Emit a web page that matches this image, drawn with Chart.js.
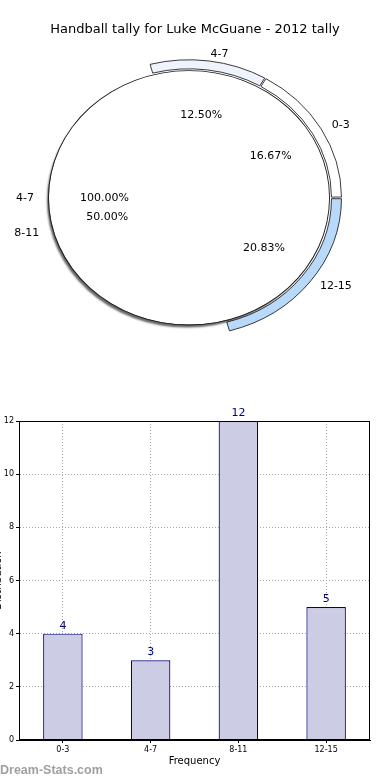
<!DOCTYPE html>
<html>
<head>
<meta charset="utf-8">
<script src="https://cdn.jsdelivr.net/npm/chart.js@4.4.1/dist/chart.umd.min.js"></script>
<style>
  body { margin: 0; background: #fff; }
  #wrap { position: relative; width: 390px; height: 780px; overflow: hidden; }
  canvas { position: absolute; left: 0; }
  #mark { position: absolute; left: 0; top: 763px; font: bold 12.5px "Liberation Sans"; color: #a0a0a0; }
</style>
</head>
<body>
<div id="wrap">
  <canvas id="pieChart" width="390" height="400" style="top:0"></canvas>
  <canvas id="barChart" width="390" height="380" style="top:400px"></canvas>
  <div id="mark">Dream-Stats.com</div>
</div>
<script>
const categories = ["0-3", "4-7", "8-11", "12-15"];
const tally = [4, 3, 12, 5];
const overlayLabels = ["4-7"];   // the whole-circle slice drawn under the wedges
const overlayShare = [100];
const yTicks = [0, 2, 4, 6, 8, 10, 12];

Chart.defaults.font.family = '"DejaVu Sans"';
Chart.defaults.color = "#000";

const squash = 0.905;     // pie is drawn a bit flattened, like the original
const labelSquash = 0.88;
const pieShiftX = -6;
const explode = [0.07, 0.07, 0, 0.07];

function centre(chart) {
    const a = chart.chartArea;
    return { cx: (a.left + a.right) / 2 + pieShiftX, cy: (a.top + a.bottom) / 2 };
}

const ellipsePlugin = {
    id: "ellipse",
    beforeDatasetsDraw(chart) {
        const { cx, cy } = centre(chart);
        const ctx = chart.ctx;
        ctx.save();
        ctx.translate(cx, cy);
        ctx.scale(1, -squash); // flip so slices run counter-clockwise
        ctx.translate(-cx + pieShiftX, -cy);
    },
    afterDatasetsDraw(chart) {
        chart.ctx.restore();
    },
    beforeDatasetDraw(chart, args) {
        if (args.index === 2) {
            const ctx = chart.ctx;
            ctx.shadowColor = "rgba(0,0,0,0.6)";
            ctx.shadowOffsetX = -2;
            ctx.shadowOffsetY = 3;
            ctx.shadowBlur = 2;
        }
    },
    afterDatasetDraw(chart, args) {
        if (args.index === 2) {
            const ctx = chart.ctx;
            ctx.shadowColor = "rgba(0,0,0,0)";
            ctx.shadowOffsetX = 0;
            ctx.shadowOffsetY = 0;
            ctx.shadowBlur = 0;
        }
    },
};

const pieLabels = {
    id: "pieLabels",
    afterDraw(chart) {
        const { cx, cy } = centre(chart);
        const ctx = chart.ctx;
        const R = chart.getDatasetMeta(1).data[0].outerRadius;
        ctx.save();
        ctx.font = '11px "DejaVu Sans"';
        ctx.fillStyle = "#000";
        ctx.textBaseline = "middle";

        const put = (arc, name, pct, e) => {
            const mid = (arc.startAngle + arc.endAngle) / 2;
            const c = Math.cos(mid), s = Math.sin(mid);
            ctx.textAlign = c < -0.001 ? "right" : "left";
            ctx.fillText(name, cx + (1.1 + e) * R * c, cy - labelSquash * (1.1 + e) * R * s);
            ctx.textAlign = "center";
            ctx.fillText(pct, cx + (0.6 + e) * R * c, cy - labelSquash * (0.6 + e) * R * s);
        };

        const total = tally.reduce((a, b) => a + b, 0);
        const overlayTotal = overlayShare.reduce((a, b) => a + b, 0);
        chart.getDatasetMeta(2).data.forEach((arc, i) => {
            put(arc, overlayLabels[i], (overlayShare[i] / overlayTotal * 100).toFixed(2) + "%", 0);
        });
        chart.getDatasetMeta(0).data.forEach((arc, i) => {
            put(arc, categories[i], (tally[i] / total * 100).toFixed(2) + "%", explode[i]);
        });
        ctx.restore();
    },
};

new Chart(document.getElementById("pieChart"), {
    type: "pie",
    data: {
        labels: categories,
        datasets: [
            {
                // outer wedges
                data: tally,
                backgroundColor: ["#ffffff", "#eef3fc", "rgba(0,0,0,0)", "#b9d9fb"],
                borderColor: ["#000", "#000", "rgba(0,0,0,0)", "#000"],
                borderWidth: 0.8,
                spacing: 3,
                weight: 10,
                clip: false,
            },
            {
                // outline of the whole circle
                data: overlayShare,
                backgroundColor: "#1a1a1a",
                borderWidth: 0,
                weight: 0.9,
                clip: false,
            },
            {
                // whole circle body
                data: overlayShare,
                backgroundColor: "#ffffff",
                borderWidth: 0,
                weight: 140.1,
                clip: false,
            },
        ],
    },
    options: {
        responsive: false,
        animation: false,
        devicePixelRatio: 1,
        radius: 151,
        rotation: 90,
        layout: { padding: { left: 0, right: 0, top: 0, bottom: 52 } },
        plugins: {
            legend: { display: false },
            tooltip: { enabled: false },
            title: {
                display: true,
                text: "Handball tally for Luke McGuane - 2012 tally",
                color: "#000",
                font: { size: 13, weight: "normal" },
                padding: { top: 22, bottom: 10 },
            },
        },
    },
    plugins: [ellipsePlugin, pieLabels],
});

const framePlugin = {
    id: "frame",
    afterDraw(chart) {
        const a = chart.chartArea;
        const ctx = chart.ctx;
        ctx.save();
        ctx.strokeStyle = "#000";
        ctx.lineWidth = 1;
        ctx.strokeRect(Math.round(a.left) + 0.5, Math.round(a.top) + 0.5,
            Math.round(a.right - a.left) - 1, Math.round(a.bottom - a.top) - 1);
        ctx.restore();
    },
};

const valueLabels = {
    id: "valueLabels",
    afterDatasetsDraw(chart) {
        const ctx = chart.ctx;
        ctx.save();
        ctx.font = '11px "DejaVu Sans"';
        ctx.fillStyle = "#000080";
        ctx.textAlign = "center";
        ctx.textBaseline = "middle";
        chart.getDatasetMeta(0).data.forEach((bar, i) => {
            ctx.fillText(String(tally[i]), bar.x, bar.y - 8);
        });
        ctx.restore();
    },
};

new Chart(document.getElementById("barChart"), {
    type: "bar",
    data: {
        labels: categories,
        datasets: [
            {
                data: tally,
                backgroundColor: "#ccccE5",
                borderColor: "#00007a",
                borderWidth: 1.2,
                barPercentage: 0.45,
                categoryPercentage: 1,
            },
        ],
    },
    options: {
        responsive: false,
        animation: false,
        devicePixelRatio: 1,
        layout: { padding: { top: 21, right: 20, left: 0, bottom: 0 } },
        plugins: { legend: { display: false }, tooltip: { enabled: false } },
        scales: {
            x: {
                offset: true,
                grid: { offset: false, color: "#a8a8a8", tickColor: "#000", tickLength: 3, tickBorderDash: [] },
                border: { color: "#000", dash: [1, 2] },
                ticks: { font: { size: 8 }, color: "#000", padding: 2, maxRotation: 0 },
                title: { display: true, text: "Frequency", color: "#000", font: { size: 10 }, padding: { top: 0, bottom: 13 } },
                afterFit: (s) => { s.height = 40; },
            },
            y: {
                min: 0,
                max: 12,
                afterBuildTicks: (s) => { s.ticks = yTicks.map((v) => ({ value: v })); },
                grid: { color: "#a8a8a8", tickColor: "#000", tickLength: 3, tickBorderDash: [] },
                border: { color: "#000", dash: [1, 2] },
                ticks: { font: { size: 8 }, color: "#000", padding: 2 },
                title: { display: true, text: "Distribution", color: "#000", font: { size: 10 }, padding: { top: -8, bottom: 0 } },
                afterFit: (s) => { s.width = 19; },
            },
        },
    },
    plugins: [framePlugin, valueLabels],
});
</script>
</body>
</html>
